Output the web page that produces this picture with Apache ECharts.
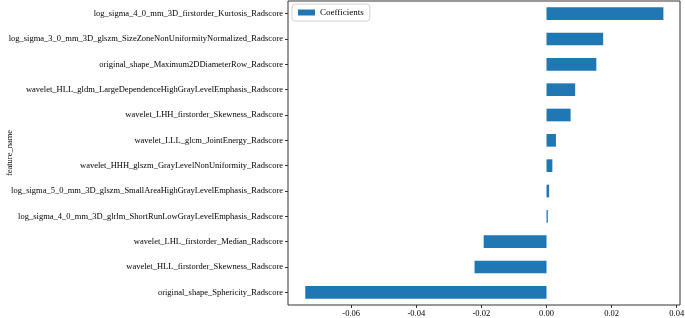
<!DOCTYPE html>
<html>
<head>
<meta charset="utf-8">
<script src="https://cdn.jsdelivr.net/npm/echarts@6/dist/echarts.min.js"></script>
<style>
    html, body { margin: 0; padding: 0; background: #fff; }
    #main { width: 685px; height: 318px; }
</style>
</head>
<body>
<div id="main"></div>
<script>
var features = [
    'log_sigma_4_0_mm_3D_firstorder_Kurtosis_Radscore',
    'log_sigma_3_0_mm_3D_glszm_SizeZoneNonUniformityNormalized_Radscore',
    'original_shape_Maximum2DDiameterRow_Radscore',
    'wavelet_HLL_gldm_LargeDependenceHighGrayLevelEmphasis_Radscore',
    'wavelet_LHH_firstorder_Skewness_Radscore',
    'wavelet_LLL_glcm_JointEnergy_Radscore',
    'wavelet_HHH_glszm_GrayLevelNonUniformity_Radscore',
    'log_sigma_5_0_mm_3D_glszm_SmallAreaHighGrayLevelEmphasis_Radscore',
    'log_sigma_4_0_mm_3D_glrlm_ShortRunLowGrayLevelEmphasis_Radscore',
    'wavelet_LHL_firstorder_Median_Radscore',
    'wavelet_HLL_firstorder_Skewness_Radscore',
    'original_shape_Sphericity_Radscore'
];
var coefficients = [0.0359, 0.0174, 0.0153, 0.0088, 0.0074, 0.0029, 0.0018, 0.0008, 0.0004, -0.0193, -0.0221, -0.0741];
var xTicks = [-0.06, -0.04, -0.02, 0.00, 0.02, 0.04];

var chart = echarts.init(document.getElementById('main'));
var font = 'Liberation Serif';
var option = {
    animation: false,
    textStyle: { fontFamily: font },
    legend: {
        data: ['Coefficients'],
        left: 292,
        top: 4,
        icon: 'rect',
        itemWidth: 17,
        itemHeight: 6,
        itemGap: 6,
        padding: [4, 6],
        borderColor: '#d0d0d0',
        borderWidth: 1,
        borderRadius: 3,
        textStyle: { fontFamily: font, fontSize: 9, color: '#000' }
    },
    grid: {
        left: 288,
        right: 5,
        top: 1,
        bottom: 13,
        outerBoundsMode: 'none',
        containLabel: false,
        show: true,
        borderColor: '#333',
        borderWidth: 1
    },
    xAxis: {
        type: 'value',
        min: -0.0794,
        max: 0.041,
        axisLine: { show: false, onZero: false },
        splitLine: { show: false },
        axisTick: { show: true, length: 3, customValues: xTicks, lineStyle: { color: '#333' } },
        axisLabel: {
            customValues: xTicks,
            fontFamily: font,
            fontSize: 8.5,
            color: '#000',
            margin: 4,
            formatter: function (v) { return v.toFixed(2); }
        }
    },
    yAxis: {
        type: 'category',
        inverse: true,
        position: 'left',
        data: features,
        name: 'feature_name',
        nameLocation: 'middle',
        nameRotate: 90,
        nameGap: 274,
        nameMoveOverlap: false,
        nameTextStyle: { fontFamily: font, fontSize: 8.5, color: '#000' },
        axisLine: { show: false, onZero: false },
        axisTick: { show: true, length: 3, alignWithLabel: true, lineStyle: { color: '#333' } },
        axisLabel: { fontFamily: font, fontSize: 8.5, color: '#000', margin: 5 }
    },
    series: [{
        name: 'Coefficients',
        type: 'bar',
        data: coefficients,
        barWidth: '50%',
        itemStyle: { color: '#1f77b4' }
    }]
};
chart.setOption(option);
</script>
</body>
</html>
